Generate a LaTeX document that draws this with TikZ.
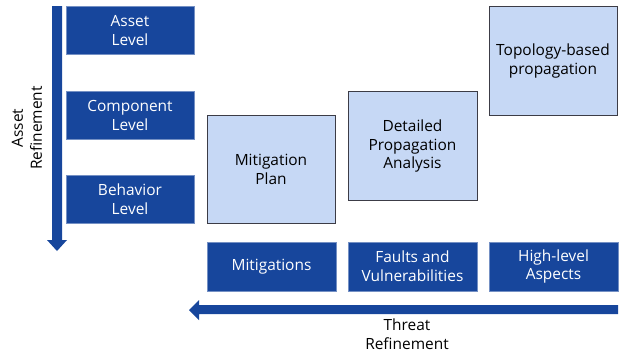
\documentclass[tikz,border=0pt]{standalone}
\usepackage{fontspec}
\setmainfont{Open Sans}
\usetikzlibrary{arrows.meta}
\definecolor{darkbox}{RGB}{23,70,156}
\definecolor{lightbox}{RGB}{198,216,245}
\definecolor{lightedge}{RGB}{60,60,70}
\begin{document}
\begin{tikzpicture}[x=1bp,y=-1bp,
  txt/.style={font=\fontsize{15.5}{19}\selectfont, align=center},
  darkstep/.style={txt, fill=darkbox, draw=darkbox!60!white, line width=0.6bp, text=white},
  lightstep/.style={txt, fill=lightbox, draw=lightedge, line width=0.8bp, text=black},
  bigarrow/.style={draw=none, fill=darkbox}]
\useasboundingbox (0,0) rectangle (623,354);

% asset levels (left column)
\node[darkstep, minimum width=128bp, minimum height=48bp] (asset) at (130,30.5) {Asset\\Level};
\node[darkstep, minimum width=128bp, minimum height=48bp] (comp) at (130,115.5) {Component\\Level};
\node[darkstep, minimum width=128bp, minimum height=48bp] (beh) at (130,199.5) {Behavior\\Level};

% threat levels (bottom row)
\node[darkstep, minimum width=129bp, minimum height=49bp] (mitig) at (271.5,266.5) {Mitigations};
\node[darkstep, minimum width=129bp, minimum height=49bp] (faults) at (412.5,266.5) {Faults and\\Vulnerabilities};
\node[darkstep, minimum width=129bp, minimum height=49bp] (high) at (553.5,266.5) {High-level\\Aspects};

% analysis results
\node[lightstep, minimum width=128bp, minimum height=108bp] (plan) at (271,169.5) {Mitigation\\Plan};
\node[lightstep, minimum width=129bp, minimum height=109bp] (detail) at (412.5,146) {Detailed\\Propagation\\Analysis};
\node[lightstep, minimum width=128bp, minimum height=109bp] (topo) at (553,61) {Topology-based\\propagation};

% refinement arrows
\coordinate (vtop) at (57,6);
\coordinate (vtip) at (57,251);
\fill[bigarrow] (52,6) -- (62,6) -- (62,240) -- (67,240) -- (vtip) -- (47,240) -- (52,240) -- cycle;
\node[txt, rotate=90] (assetref) at (27,128) {Asset\\Refinement};

\coordinate (htip) at (189,310);
\fill[bigarrow] (618,305) -- (618,314) -- (199,314) -- (199,320) -- (htip) -- (199,300) -- (199,305) -- cycle;
\node[txt] (threatref) at (407,334.5) {Threat\\Refinement};
\end{tikzpicture}
\end{document}
